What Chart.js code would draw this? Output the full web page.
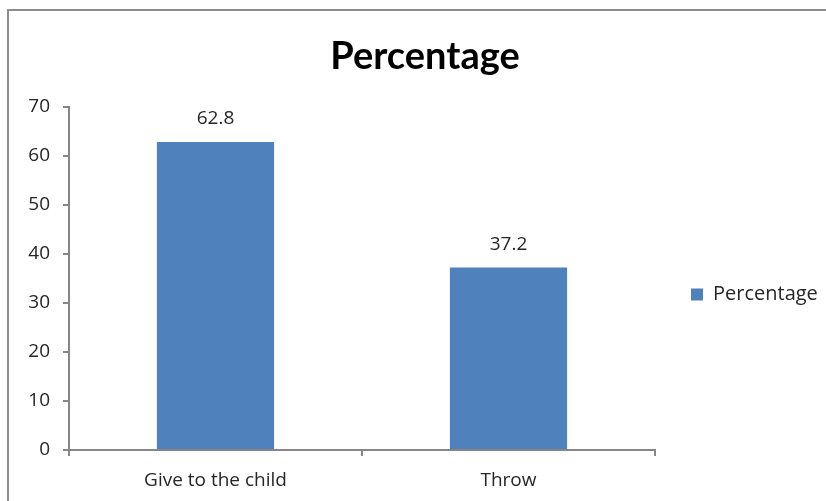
<!DOCTYPE html>
<html>
<head>
<meta charset="utf-8">
<script src="https://cdn.jsdelivr.net/npm/chart.js@4.4.1/dist/chart.umd.min.js"></script>
<style>
  html, body { margin: 0; padding: 0; background: #ffffff; }
  #wrap { width: 826px; height: 501px; }
</style>
</head>
<body>
<div id="wrap"><canvas id="chart" width="826" height="501"></canvas></div>
<script>
// Disposal of items: share of respondents
const categories = ['Give to the child', 'Throw'];
const percentages = [62.8, 37.2];
const seriesName = 'Percentage';
const yTicks = [0, 10, 20, 30, 40, 50, 60, 70];

const FONT = "'Open Sans', 'Liberation Sans', Arial, sans-serif";
const TITLE_FONT = "Lato, 'Liberation Sans', Arial, sans-serif";
const TEXT = '#262626';
const AXIS = '#868686';
const BAR = '#4F81BD';
const LEGEND_WIDTH = 171;
const LEGEND_DROP = 31;

// Light frame around the chart object
const framePlugin = {
  id: 'frame',
  beforeDraw(chart) {
    const ctx = chart.ctx;
    ctx.save();
    ctx.strokeStyle = '#8c8c8c';
    ctx.lineWidth = 2;
    ctx.strokeRect(8, 10, 900, 600);
    ctx.restore();
  }
};

// Fixed column width for the right-hand legend, and a slightly lower placement
const legendPlacement = {
  id: 'legendPlacement',
  beforeUpdate(chart) {
    const lg = chart.legend;
    if (lg && !lg._fixedFit) {
      const fit = lg.fit.bind(lg);
      lg.fit = function () {
        fit();
        this.width = LEGEND_WIDTH;
      };
      lg._fixedFit = true;
    }
  },
  afterLayout(chart) {
    const lg = chart.legend;
    if (lg) {
      lg.top += LEGEND_DROP;
      lg.bottom += LEGEND_DROP;
    }
  }
};

// Value labels above each bar
const valueLabels = {
  id: 'valueLabels',
  afterDatasetsDraw(chart) {
    const ctx = chart.ctx;
    ctx.save();
    ctx.font = '19px ' + FONT;
    ctx.fillStyle = TEXT;
    ctx.textAlign = 'center';
    ctx.textBaseline = 'middle';
    chart.data.datasets.forEach((ds, di) => {
      chart.getDatasetMeta(di).data.forEach((bar, i) => {
        ctx.fillText(String(ds.data[i]), bar.x, bar.y - 23);
      });
    });
    ctx.restore();
  }
};

new Chart(document.getElementById('chart'), {
  type: 'bar',
  data: {
    labels: categories,
    datasets: [{
      label: seriesName,
      data: percentages,
      backgroundColor: BAR,
      borderWidth: 0,
      categoryPercentage: 0.8,
      barPercentage: 0.5
    }]
  },
  options: {
    responsive: false,
    animation: false,
    layout: { padding: { top: 26, left: 24, right: 0, bottom: 0 } },
    plugins: {
      title: {
        display: true,
        text: 'Percentage',
        color: '#000000',
        font: { family: TITLE_FONT, size: 38, weight: 'bold' },
        padding: { top: 8, bottom: 27 }
      },
      legend: {
        display: true,
        position: 'right',
        align: 'center',
        labels: {
          color: TEXT,
          font: { family: FONT, size: 20 },
          boxWidth: 12,
          boxHeight: 12,
          padding: 36
        }
      },
      tooltip: { enabled: false }
    },
    scales: {
      x: {
        grid: {
          display: true,
          drawOnChartArea: false,
          drawTicks: true,
          tickLength: 6,
          lineWidth: 2,
          color: AXIS,
          offset: true
        },
        border: { display: true, color: AXIS, width: 2 },
        ticks: { color: TEXT, font: { family: FONT, size: 19 }, padding: 13 },
        afterFit(scale) { scale.height = 51; }
      },
      y: {
        min: 0,
        max: 70,
        afterBuildTicks(scale) { scale.ticks = yTicks.map(v => ({ value: v })); },
        grid: {
          display: true,
          drawOnChartArea: false,
          drawTicks: true,
          tickLength: 6,
          lineWidth: 2,
          color: AXIS
        },
        border: { display: true, color: AXIS, width: 2 },
        ticks: { color: TEXT, font: { family: FONT, size: 19 }, padding: 13 },
        afterFit(scale) { scale.width = 45; }
      }
    }
  },
  plugins: [framePlugin, legendPlacement, valueLabels]
});
</script>
</body>
</html>
